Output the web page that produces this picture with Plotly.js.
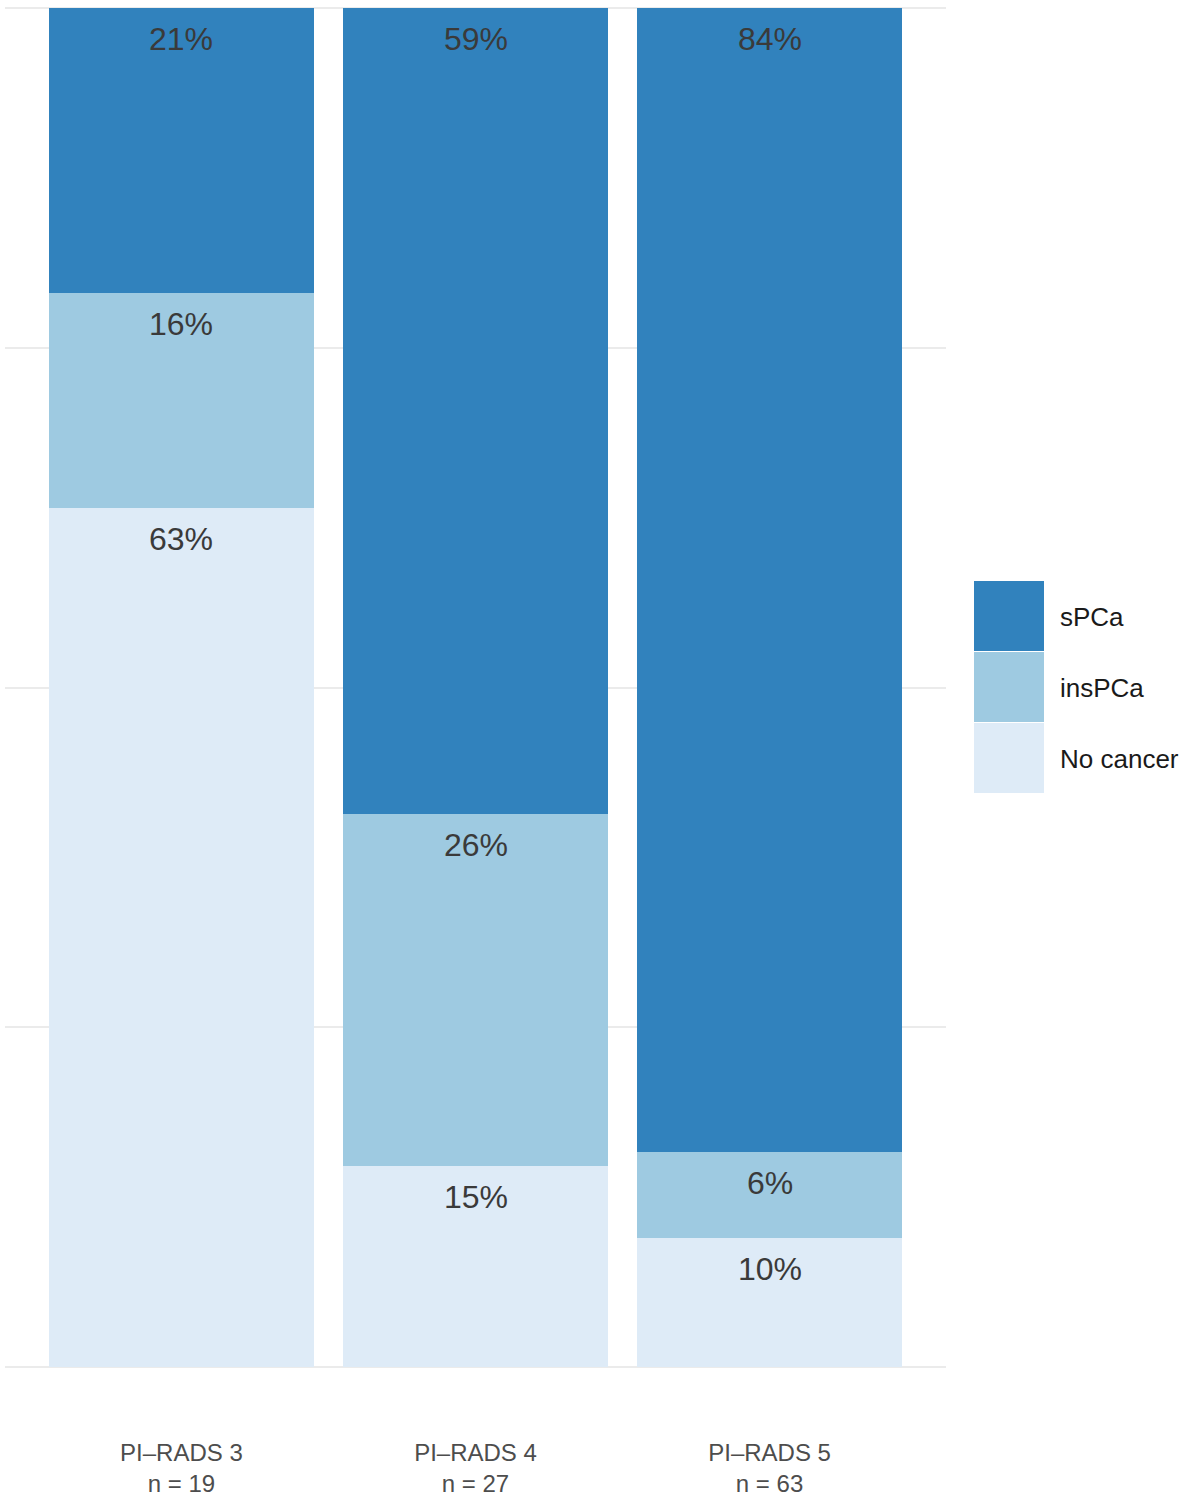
<!DOCTYPE html>
<html>
<head>
<meta charset="utf-8">
<script src="https://cdn.plot.ly/plotly-3.0.1.min.js"></script>
<style>
  html, body { margin: 0; padding: 0; background: #fff; }
  #chart { width: 1181px; height: 1501px; }
</style>
</head>
<body>
<div id="chart"></div>
<script>
// ── Data ─────────────────────────────────────
const categories = ["PI–RADS 3<br>n = 19", "PI–RADS 4<br>n = 27", "PI–RADS 5<br>n = 63"];
const noCancer = [63.2, 14.8, 9.5];
const insPCa = [15.8, 25.9, 6.3];
const sPCa = [21.0, 59.3, 84.2];
const gridTicks = [0, 25, 50, 75, 100];

// stacked bottom → top
const series = [
  { name: "No cancer", values: noCancer, color: "#deebf7" },
  { name: "insPCa", values: insPCa, color: "#9ecae1" },
  { name: "sPCa", values: sPCa, color: "#3182bd" },
];

const FONT = "Liberation Sans, Arial, Helvetica, sans-serif";

// ── Traces ───────────────────────────────────
const traces = series.map((s) => ({
  type: "bar",
  name: s.name,
  x: categories,
  y: s.values,
  width: 0.9,
  marker: { color: s.color, line: { width: 0 } },
  hoverinfo: "skip",
  showlegend: false,
}));

// ── Percent labels at top of each segment ────
const annotations = [];
categories.forEach((cat, i) => {
  let top = 0;
  series.forEach((s) => {
    top += s.values[i];
    annotations.push({
      x: cat,
      y: top,
      xref: "x",
      yref: "y",
      text: Math.round(s.values[i]) + "%",
      showarrow: false,
      yanchor: "middle",
      yshift: -31,
      font: { family: FONT, size: 32, color: "#3a3a3a" },
    });
  });
});

// ── Manual legend (big square keys) ──────────
const shapes = [];
const legendOrder = series.slice().reverse();
legendOrder.forEach((s, k) => {
  const yTop = 106.5 - 71 * k;
  shapes.push({
    type: "rect",
    xref: "paper",
    yref: "paper",
    xsizemode: "pixel",
    ysizemode: "pixel",
    xanchor: 1,
    yanchor: 0.5,
    x0: 28,
    x1: 98,
    y0: yTop,
    y1: yTop - 70,
    fillcolor: s.color,
    line: { width: 0 },
  });
  annotations.push({
    xref: "paper",
    yref: "paper",
    x: 1,
    y: 0.5,
    xshift: 112,
    yshift: 71 - 71 * k,
    xanchor: "left",
    yanchor: "middle",
    text: s.name,
    showarrow: false,
    font: { family: FONT, size: 26, color: "#1a1a1a" },
  });
});

const layout = {
  width: 1181,
  height: 1501,
  margin: { l: 5, r: 235, t: 5, b: 131 },
  paper_bgcolor: "#ffffff",
  plot_bgcolor: "#ffffff",
  barmode: "stack",
  bargap: 0.1,
  showlegend: false,
  xaxis: {
    type: "category",
    range: [-0.6, 2.6],
    showgrid: false,
    zeroline: false,
    showline: false,
    ticks: "",
    ticklabelstandoff: 66,
    tickfont: { family: FONT, size: 24, color: "#4d4d4d" },
  },
  yaxis: {
    range: [-0.2, 100.2],
    tickvals: gridTicks,
    showticklabels: false,
    showgrid: true,
    gridcolor: "#ebebeb",
    gridwidth: 2,
    zeroline: false,
    showline: false,
    ticks: "",
  },
  shapes,
  annotations,
};

Plotly.newPlot("chart", traces, layout, { staticPlot: true, displayModeBar: false });
</script>
</body>
</html>
